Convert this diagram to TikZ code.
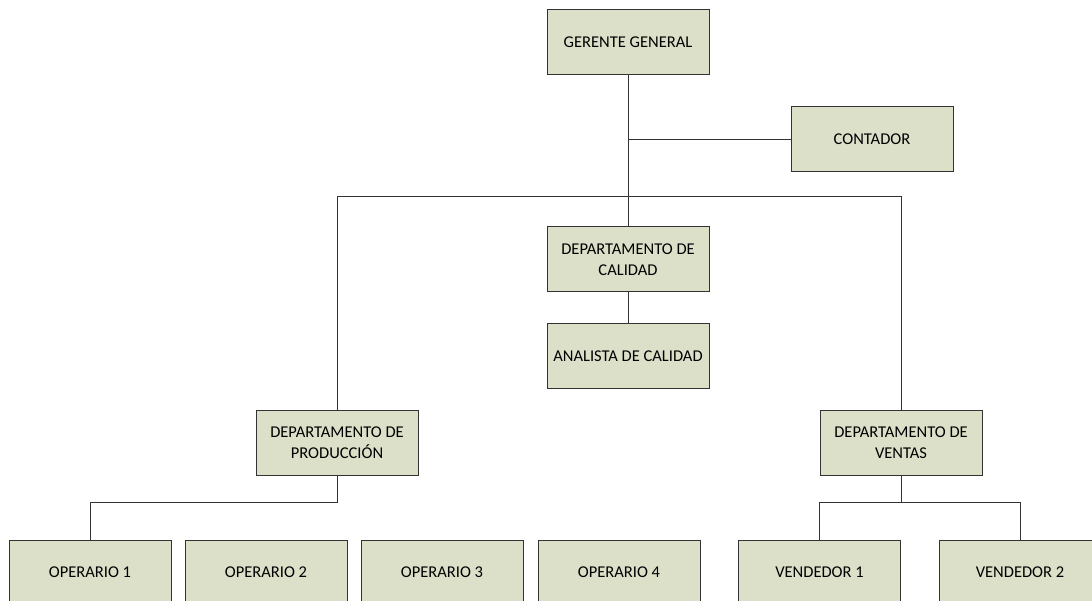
\documentclass[tikz,border=0pt]{standalone}
\usepackage{fontspec}
\setmainfont{Carlito}
\definecolor{boxfill}{HTML}{DDE0C9}
\definecolor{linegray}{HTML}{333333}

\begin{document}
\begin{tikzpicture}[x=1pt,y=-1pt,
    cargo/.style={draw=linegray, line width=1pt, fill=boxfill, minimum width=162pt,
        minimum height=65pt, align=center, font=\fontsize{16.5}{21}\selectfont, inner sep=2pt},
    enlace/.style={draw=linegray, line width=0.9pt}]
\useasboundingbox (0,0) rectangle (1092,601);
\clip (0,0) rectangle (1092,601);
% niveles superiores
\node[cargo] (gerente) at (628,42.5) {GERENTE GENERAL};
\node[cargo] (contador) at (872,139.5) {CONTADOR};
\node[cargo] (calidad) at (628,259.5) {DEPARTAMENTO DE\\CALIDAD};
\node[cargo] (analista) at (628,356) {ANALISTA DE CALIDAD};
\node[cargo] (produccion) at (337,442.5) {DEPARTAMENTO DE\\PRODUCCIÓN};
\node[cargo] (ventas) at (901,442.5) {DEPARTAMENTO DE\\VENTAS};
% nivel operativo
\node[cargo] (op1) at (90,572.5) {OPERARIO 1};
\node[cargo] (op2) at (266,572.5) {OPERARIO 2};
\node[cargo] (op3) at (442,572.5) {OPERARIO 3};
\node[cargo] (op4) at (619,572.5) {OPERARIO 4};
\node[cargo] (vend1) at (819.5,572.5) {VENDEDOR 1};
\node[cargo] (vend2) at (1020,572.5) {VENDEDOR 2};
% uniones
\coordinate (bus) at (628,196);
\coordinate (pbus) at (337,502);
\coordinate (vbus) at (901,502);
\draw[enlace] (gerente) -- (bus);
\draw[enlace] (contador) -- (gerente |- contador);
\draw[enlace] (bus) -| (produccion);
\draw[enlace] (bus) -| (ventas);
\draw[enlace] (bus) -- (calidad);
\draw[enlace] (calidad) -- (analista);
\draw[enlace] (produccion) -- (pbus) -| (op1);
\draw[enlace] (ventas) -- (vbus);
\draw[enlace] (vbus) -| (vend1);
\draw[enlace] (vbus) -| (vend2);
\end{tikzpicture}
\end{document}
